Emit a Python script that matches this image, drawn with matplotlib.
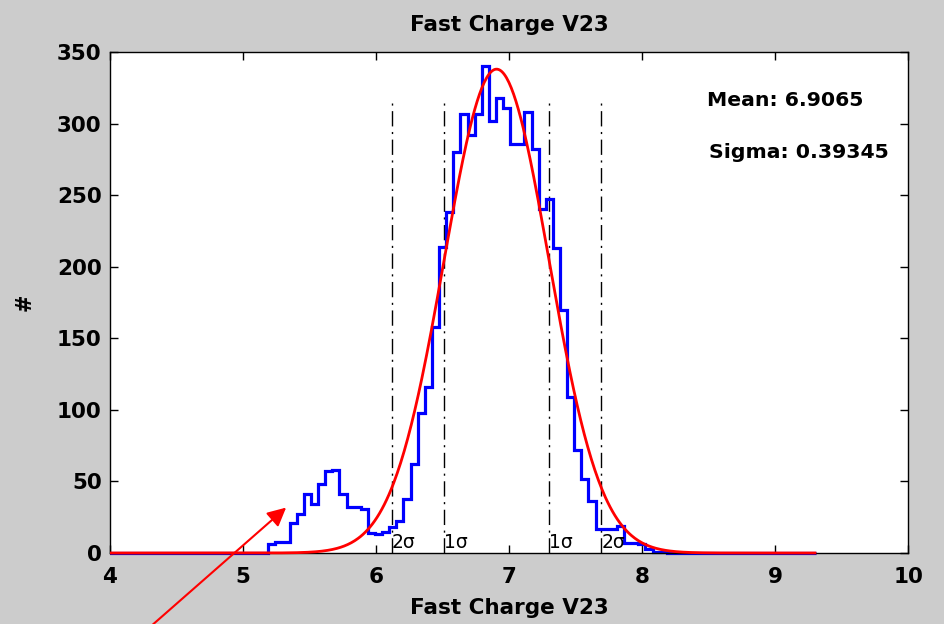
import numpy as np
import matplotlib
matplotlib.use("Agg")
import matplotlib.pyplot as plt
from matplotlib.patches import Rectangle

# histogram of the measured values (100 bins)
bin_lo = 3.9595
bin_hi = 9.3095
counts = [0] * 23 + [
    6, 8, 8, 21, 27, 41, 34, 48, 57, 58,
    41, 32, 32, 31, 14, 13, 15, 18, 22, 38,
    62, 98, 116, 158, 214, 238, 280, 307, 292, 307,
    340, 302, 318, 311, 286, 286, 308, 282, 240, 247,
    213, 170, 109, 72, 52, 36, 17, 17, 17, 19,
    7, 7, 6, 3, 1, 1,
] + [0] * 21

# gaussian fit
mean = 6.9065
sigma = 0.39345
fit_peak = 338
fit_lo, fit_hi = 4.0, 9.3

sigma_lines = [-2, -1, 1, 2]
sigma_labels = ["2σ", "1σ", "1σ", "2σ"]
sigma_top = 315

plt.rcParams['font.family'] = ['DejaVu Sans']

fig = plt.figure(figsize=(9.44, 6.24), dpi=100, facecolor="#cccccc")
ax = fig.add_axes([0.1165, 0.1138, 0.8454, 0.8029])
ax.set_facecolor("white")

clip = Rectangle((0, -0.02), 1, 1.04, transform=ax.transAxes, visible=False)

for k, lab in zip(sigma_lines, sigma_labels):
    xv = mean + k * sigma
    ax.plot([xv, xv], [0, sigma_top], color="black", ls=(0, (11, 4, 1.5, 4)), lw=1.0, zorder=1)
    ax.text(xv, 1, lab, fontsize=13.5, ha="left", va="bottom", zorder=4)

edges = np.linspace(bin_lo, bin_hi, len(counts) + 1)
st = ax.stairs(counts, edges, color="blue", lw=2.3, baseline=0, zorder=2)
st.set_clip_path(clip)

xf = np.linspace(fit_lo, fit_hi, 600)
yf = fit_peak * np.exp(-(xf - mean) ** 2 / (2 * sigma ** 2))
ln, = ax.plot(xf, yf, color="red", lw=2.0, zorder=3)
ln.set_clip_path(clip)

ax.set_xlim(4, 10)
ax.set_ylim(0, 350)
ax.set_xticks(range(4, 11))
ax.set_yticks(range(0, 351, 50))
ax.tick_params(direction="in", top=True, right=True, length=6, width=1,
               labelsize=15.5)
ax.tick_params(axis="x", pad=10)
ax.tick_params(axis="y", pad=6)
for lbl in ax.get_xticklabels() + ax.get_yticklabels():
    lbl.set_fontweight("bold")
for s in ax.spines.values():
    s.set_linewidth(1.0)

ax.set_title("Fast Charge V23", fontsize=15.5, fontweight="bold", pad=15)
ax.set_xlabel("Fast Charge V23", fontsize=15.5, fontweight="bold", labelpad=8)
ax.set_ylabel("#", fontsize=15, fontweight="bold", labelpad=16)

ax.text(8.49, 316, "Mean: %.4f" % mean, fontsize=14.7, fontweight="bold", va="center")
ax.text(8.50, 280, "Sigma: %.5f" % sigma, fontsize=14.7, fontweight="bold", va="center")

ax.annotate("", xy=(5.34, 33), xycoords="data",
            xytext=(0.155, -0.01), textcoords="figure fraction",
            arrowprops=dict(arrowstyle="-|>", color="red", lw=1.5, mutation_scale=28),
            annotation_clip=False)

fig.savefig("out.png", dpi=100, facecolor=fig.get_facecolor())
